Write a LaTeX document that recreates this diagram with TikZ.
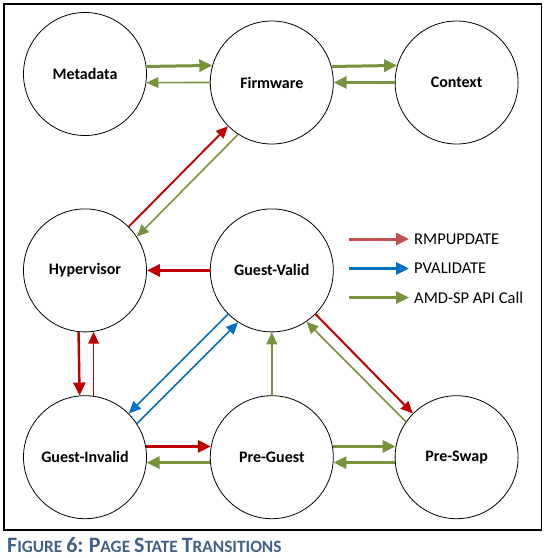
\documentclass[tikz,border=0pt]{standalone}
\usepackage{fontspec}
\setmainfont{Carlito}
\usetikzlibrary{positioning, arrows.meta}
\definecolor{rmpcolor}{RGB}{192, 0, 0}
\definecolor{keyred}{RGB}{192, 80, 77}
\definecolor{pvalcolor}{RGB}{0, 112, 192}
\definecolor{apicolor}{RGB}{119, 147, 60}
\definecolor{captioncolor}{RGB}{64, 96, 136}
\tikzstyle{state} = [circle, draw=black, line width=0.8pt,
                     minimum size=123pt, inner sep=0pt,
                     font=\fontsize{16}{19}\selectfont\bfseries]
\tikzstyle{keytext} = [anchor=west, inner sep=0pt,
                       font=\fontsize{16.5}{19}\selectfont]
\tikzstyle{heavy} = [-{Triangle[length=13pt, width=12pt]}, line width=3pt]
\tikzstyle{light} = [-{Triangle[length=12pt, width=10.5pt]}, line width=1.6pt]
\newcommand{\capword}[2]{{\fontsize{22}{24}\selectfont #1}{\fontsize{17.3}{24}\selectfont #2}}

\begin{document}
\begin{tikzpicture}[x=1pt, y=-1pt]
        \useasboundingbox (0,0) rectangle (546,558);
        \draw [line width=1.2pt] (4,4) rectangle (541.5,530);

        \node (meta) [state] at (85,74) {Metadata};
        \node (fw) [state, right=63pt of meta, yshift=-8.5pt] {Firmware};
        \node (ctx) [state, right=61pt of fw] {Context};

        \node (hyp) [state, below=72.6pt of meta] {Hypervisor};
        \node (gv) [state, right=63pt of hyp] {Guest-Valid};

        \node (gi) [state, below=63pt of hyp] {Guest-Invalid};
        \node (pg) [state, right=63pt of gi] {Pre-Guest};
        \node (ps) [state, right=61pt of pg] {Pre-Swap};

        % top row
        \draw [heavy, apicolor] (meta.7.5) -- (fw.164.5);
        \draw [light, apicolor] (fw.180) -- (meta.352);
        \draw [heavy, apicolor] (fw.15.5) -- (ctx.164.5);
        \draw [heavy, apicolor] (ctx.180) -- (fw.0);

        % hypervisor and firmware
        \draw [light, rmpcolor, line width=1.9pt] (hyp.45) -- (fw.225);
        \draw [light, apicolor] (fw.237) -- (hyp.33);
        \draw [heavy, rmpcolor] (gv.180) -- (hyp.0);
        \draw [heavy, rmpcolor, line width=2.4pt] (hyp.264.5) -- (gi.95.5);
        \draw [light, rmpcolor] (gi.82) -- (hyp.278);

        % guest-valid
        \draw [light, pvalcolor] (gv.225) -- (gi.45);
        \draw [light, pvalcolor] (gi.33) -- (gv.237);
        \draw [light, apicolor, line width=2.2pt] (pg.90) -- (gv.270);
        \draw [light, rmpcolor, line width=2pt] (gv.315) -- (ps.135);
        \draw [light, apicolor] (ps.145) -- (gv.304);

        % bottom row
        \draw [heavy, rmpcolor] (gi.10) -- (pg.170);
        \draw [heavy, apicolor] (pg.185) -- (gi.355);
        \draw [heavy, apicolor] (pg.10) -- (ps.170);
        \draw [heavy, apicolor] (ps.185) -- (pg.355);

        % key
        \node (rmpkey) [keytext] at (414,239) {RMPUPDATE};
        \node (pvalkey) [keytext] at (414,268.5) {PVALIDATE};
        \node (apikey) [keytext] at (414,297.5) {AMD-SP API Call};
        \coordinate (rmpstart) at (349,239);
        \coordinate (pvalstart) at (349,268.5);
        \coordinate (apistart) at (349,297.5);
        \draw [heavy, keyred, shorten >=5pt] (rmpstart) -- (rmpkey.west);
        \draw [heavy, pvalcolor, shorten >=5pt] (pvalstart) -- (pvalkey.west);
        \draw [heavy, apicolor, shorten >=5pt] (apistart) -- (apikey.west);

        \node (caption) [anchor=base west, inner sep=0pt, text=captioncolor,
                         font=\fontsize{17.3}{20}\selectfont\bfseries] at (7,552.5)
              {\capword{F}{IGURE} \capword{6:}{} \capword{P}{AGE} \capword{S}{TATE} \capword{T}{RANSITIONS}};
    
    \end{tikzpicture}
\end{document}
